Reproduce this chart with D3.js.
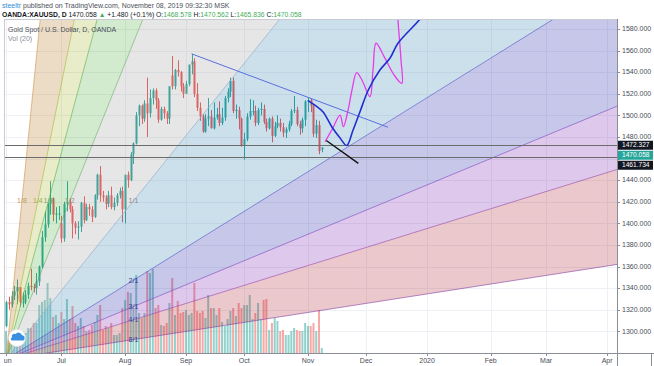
<!DOCTYPE html>
<html><head><meta charset="utf-8">
<script src="https://cdn.jsdelivr.net/npm/d3@7"></script>
<style>body{margin:0;background:#fff;overflow:hidden}svg{display:block;font-family:"Liberation Sans",Arial,sans-serif}</style>
</head><body><svg id="c" width="654" height="366"></svg>
<script>
// ---------- DATA ----------
const startDate = "2019-06-03";
const endDate = "2020-04-30";
const opens  = [1305,1327,1325,1333,1337,1341,1327,1327,1334,1342,1341,1340,1346,1360,1387,1399,1418,1423,1408,1409,
  1400,1386,1418,1419,1413,1400,1396,1397,1419,1403,1415,1413,1406,1426,1445,1426,1424,1418,1426,1415,1419,1426,1430,
  1413,1445,1440,1464,1474,1500,1509,1497,1511,1502,1516,1523,1514,1496,1506,1502,1497,1537,1527,1542,1540,1527,
  1520,1529,1547,1550,1520,1507,1499,1485,1497,1499,1488,1498,1501,1493,1498,1516,1522,1532,1504,1505,1497,
  1472,1478,1499,1504,1504,1493,1505,1506,1494,1488,1497,1481,1490,1493,1489,1484,1487,1492,1504,1505,1492,1488,1496,
  1513,1514,1509,1483,1491,1468.578];
const highs  = [1328,1332,1337,1342,1348,1341,1336,1338,1345,1358,1344,1354,1361,1393,1411,1419,1439,1424,1415,1416,
  1407,1420,1439,1423,1416,1402,1402,1420,1425,1418,1418,1416,1427,1446,1453,1430,1426,1430,1434,1424,1428,1433,1434,
  1445,1448,1466,1475,1503,1510,1510,1514,1535,1524,1525,1525,1516,1508,1508,1504,1527,1555,1543,1551,1541,1530,
  1532,1547,1557,1553,1530,1512,1501,1501,1516,1505,1512,1507,1513,1507,1518,1525,1535,1535,1510,1508,1498,
  1484,1502,1515,1514,1509,1507,1512,1510,1497,1498,1499,1494,1500,1497,1493,1489,1495,1506,1518,1508,1495,1498,1514,
  1516,1516,1510,1496,1495,1470.562];
const lows   = [1304,1320,1322,1329,1325,1323,1322,1325,1330,1338,1336,1334,1342,1358,1383,1396,1408,1402,1400,1403,
  1382,1383,1411,1410,1386,1390,1385,1392,1400,1402,1407,1401,1405,1422,1420,1420,1413,1415,1413,1412,1416,1423,1401,
  1400,1433,1439,1455,1473,1490,1492,1494,1480,1498,1510,1506,1493,1495,1497,1492,1492,1524,1524,1536,1522,1516,
  1520,1527,1538,1517,1504,1495,1484,1484,1490,1488,1487,1496,1490,1491,1495,1512,1517,1502,1497,1487,1471,
  1459,1476,1496,1500,1490,1491,1500,1492,1485,1487,1475,1480,1488,1485,1480,1479,1485,1490,1502,1490,1482,1484,1490,
  1503,1503,1480,1479,1464,1465.836];
const closes = [1327,1325,1333,1337,1341,1327,1327,1334,1342,1341,1340,1346,1360,1387,1399,1418,1423,1408,1409,1409,
  1386,1418,1419,1413,1400,1396,1397,1419,1403,1415,1413,1406,1426,1445,1426,1424,1418,1426,1415,1419,1426,1430,1413,
  1445,1440,1464,1474,1500,1509,1497,1511,1502,1516,1523,1514,1496,1506,1502,1497,1527,1527,1542,1540,1527,1520,
  1529,1547,1550,1520,1507,1499,1485,1497,1499,1488,1498,1501,1493,1498,1516,1522,1532,1504,1505,1497,1472,
  1478,1499,1504,1504,1493,1505,1506,1494,1488,1497,1481,1490,1493,1489,1484,1487,1492,1504,1505,1492,1488,1496,1513,
  1514,1509,1483,1491,1467,1470.058];
const volumes = [55000,45000,37500,42500,50000,45000,40000,50000,62500,62500,75000,75000,120000,127500,132500,175000,137500,90000,95000,75000,
  102500,85000,135000,85000,117500,75000,67500,87500,67500,55000,57500,70000,77500,95000,120000,57500,67500,62500,75000,45000,45000,50000,112500,
  132500,152500,150000,112500,195000,100000,87500,100000,205000,200000,210000,112500,120000,70000,67500,75000,125000,187500,95000,130000,100000,102500,
  107500,95000,100000,175000,105000,100000,105000,87500,145000,112500,112500,95000,112500,77500,67500,85000,105000,112500,92500,125000,112500,
  120000,120000,145000,85000,100000,125000,85000,132500,135000,57500,75000,87500,80000,55000,57500,45000,45000,55000,62500,57500,55000,55000,75000,
  67500,67500,75000,55000,107500,12500];
const priceTicks = [1300,1320,1340,1360,1380,1400,1420,1440,1460,1480,1500,1520,1540,1560,1580];
const monthLabels = ["Jun","Jul","Aug","Sep","Oct","Nov","Dec","2020","Feb","Mar","Apr"];
const monthStarts = ["2019-06-01","2019-07-01","2019-08-01","2019-09-01","2019-10-01","2019-11-01","2019-12-01","2020-01-01","2020-02-01","2020-03-01","2020-04-01"];
const hLevels = [1472.327, 1461.734];
const lastPrice = 1470.058;
// Gann fan anchors (bar index, price)
const gannOrigin = [0, 1274];
const gannEnd = [46, 1420.7];
const gannLabels = ["1/8","1/4","1/3","1/2","1/1","2/1","3/1","4/1","8/1"];
const gannTimeFrac  = [1/8,1/4,1/3,1/2,1,1,1,1,1];
const gannPriceFrac = [1,1,1,1,1,1/2,1/3,1/4,1/8];
// drawings (bar index, price)
const trendLine = [[67,1557],[137.9,1489]];
const blackLine = [[115.5,1477.0],[127.2,1455.6]];
const blueCurve = [[109,1513.6],[111.9,1508.7],[114.4,1503.4],[117.6,1489.5],[120.6,1479],[123,1472.1],[125.3,1486.4],
  [127.8,1503.4],[130.8,1523.5],[135,1542],[138.6,1552.9],[141.5,1566.8],[149.5,1589.3],[153,1602]];
const magentaCurve = [[115.2,1475.6],[118,1488.3],[120.6,1500.3],[121.8,1489.5],[123.5,1505],[124.9,1523.5],[126.6,1539.5],
  [128.5,1532.8],[131.4,1517.3],[132.5,1542],[133.6,1566.8],[136.8,1553],[140.1,1537.4],[142.9,1529.7],[142.6,1551.3],[141.5,1588.3],[141.2,1602]];

// ---------- CALENDAR (weekday bars) ----------
const parse = d3.utcParse("%Y-%m-%d");
const days = d3.utcDays(parse(startDate), d3.utcDay.offset(parse(endDate),1)).filter(d => d.getUTCDay()!==0 && d.getUTCDay()!==6);
function idxOf(dateStr){ const t=parse(dateStr); return days.findIndex(d => d >= t); }

// ---------- LAYOUT ----------
const L=4, R=617, T=19, B=353;
const x = d3.scaleLinear().domain([-0.722, 220.58]).range([L, R]);
const y = d3.scaleLinear().domain([1300,1580]).range([331.3, 29]);
const yv = d3.scaleLinear().domain([0,210000]).range([B, B-84]);

const svg = d3.select("#c");
svg.append("rect").attr("width",654).attr("height",366).attr("fill","#fff");
const defs = svg.append("defs");
defs.append("clipPath").attr("id","pane").append("rect").attr("x",L).attr("y",T).attr("width",R-L).attr("height",B-T);
defs.append("clipPath").attr("id","taxis").append("rect").attr("x",L).attr("y",B).attr("width",R-L+40).attr("height",20);

const pane = svg.append("g").attr("clip-path","url(#pane)");
// grid
const mIdx = monthStarts.map(idxOf);
pane.selectAll("line.vg").data(mIdx).join("line").attr("x1",d=>Math.round(x(d))+0.5).attr("x2",d=>Math.round(x(d))+0.5)
  .attr("y1",T).attr("y2",B).attr("stroke","#eef0f5").attr("stroke-width",1);
pane.selectAll("line.hg").data(priceTicks).join("line").attr("y1",d=>Math.round(y(d))+0.5).attr("y2",d=>Math.round(y(d))+0.5)
  .attr("x1",L).attr("x2",R).attr("stroke","#eef0f5").attr("stroke-width",1);

const up = i => closes[i] >= opens[i];
// volume
pane.selectAll("rect.vol").data(volumes).join("rect")
  .attr("x",(d,i)=>x(i)-1).attr("width",2).attr("y",d=>yv(d)).attr("height",d=>B-yv(d))
  .attr("fill",(d,i)=>up(i)?"rgba(38,166,154,0.5)":"rgba(239,83,80,0.5)");
// candles
const cg = pane.append("g");
closes.forEach((c,i)=>{
  const col = up(i)?"#26a69a":"#ef5350";
  const xc = Math.round(x(i))+0.5;
  cg.append("line").attr("x1",xc).attr("x2",xc).attr("y1",y(highs[i])).attr("y2",y(lows[i])).attr("stroke",col).attr("stroke-width",1);
  const top = y(Math.max(opens[i],c)), bot = y(Math.min(opens[i],c));
  cg.append("rect").attr("x",xc-1).attr("width",2).attr("y",top).attr("height",Math.max(1,bot-top)).attr("fill",col);
});

// gann fan
const fanFill = ["rgba(179,115,27,0.25)","rgba(163,179,35,0.25)","rgba(75,171,55,0.25)","rgba(155,155,155,0.25)",
  "rgba(51,131,179,0.25)","rgba(40,40,170,0.26)","rgba(123,35,175,0.25)","rgba(171,35,51,0.25)"];
const fanLine = ["rgba(200,140,60,0.55)","rgba(160,180,40,0.55)","rgba(80,170,60,0.55)","rgba(90,160,90,0.5)","rgba(150,175,200,0.7)",
  "rgba(80,80,200,0.6)","rgba(120,70,190,0.6)","rgba(150,70,170,0.6)","rgba(130,60,160,0.6)"];
const fanText = ["#c39a66","#9fb04a","#7aa870","#8a9a8a","#888","#2d3f86","#2d3f86","#3a4f9a","#3d3f8a"];
const [i0,p0]=gannOrigin, [i1,p1]=gannEnd;
const farI = 400;
const fanPts = gannTimeFrac.map((tf,k)=>{
  const pi = i0+tf*(i1-i0), pp = p0+gannPriceFrac[k]*(p1-p0);
  const slope = (pp-p0)/(pi-i0);
  return {pi,pp,end:[farI, p0+slope*(farI-i0)]};
});
const fg = pane.append("g");
for(let k=0;k<fanPts.length-1;k++){
  const a=fanPts[k].end, b=fanPts[k+1].end;
  fg.append("path").attr("d",`M${x(i0)},${y(p0)}L${x(a[0])},${y(a[1])}L${x(b[0])},${y(b[1])}Z`).attr("fill",fanFill[k]);
}
fanPts.forEach((f,k)=>{
  fg.append("line").attr("x1",x(i0)).attr("y1",y(p0)).attr("x2",x(f.end[0])).attr("y2",y(f.end[1]))
    .attr("stroke",fanLine[k]).attr("stroke-width",1);
});
fanPts.forEach((f,k)=>{
  fg.append("text").attr("x",x(f.pi)).attr("y",y(f.pp)+2.5).attr("text-anchor","middle").attr("font-size",7)
    .attr("fill",fanText[k]).text(gannLabels[k]);
});

// horizontal lines
pane.selectAll("line.hl").data(hLevels).join("line").attr("x1",L).attr("x2",R)
  .attr("y1",d=>Math.round(y(d))+0.5).attr("y2",d=>Math.round(y(d))+0.5).attr("stroke","#6b6b6b").attr("stroke-width",1);
// trend line
const ln = d3.line().x(d=>x(d[0])).y(d=>y(d[1]));
pane.append("path").attr("d",ln(trendLine)).attr("stroke","#5a6fe0").attr("stroke-width",1).attr("fill","none");
pane.append("path").attr("d",ln(blackLine)).attr("stroke","#111").attr("stroke-width",1.4).attr("fill","none");
const cl = d3.line().x(d=>x(d[0])).y(d=>y(d[1])).curve(d3.curveCatmullRom.alpha(0.5));
pane.append("path").attr("d",cl(magentaCurve)).attr("stroke","#e63ce8").attr("stroke-width",1.3).attr("fill","none");
pane.append("path").attr("d",cl(blueCurve)).attr("stroke","#1f2fd0").attr("stroke-width",1.6).attr("fill","none");

// logo
const lg = svg.append("g").attr("transform","translate(17,338)");
lg.append("circle").attr("r",8.5).attr("fill","#fff").attr("stroke","#e3e6ec").attr("stroke-width",0.6);
lg.append("path").attr("d","M-5,2.5 h10 a2.6,2.6 0 0 0 0,-5.2 a3.6,3.6 0 0 0 -6.4,-1.2 a2.6,2.6 0 0 0 -3.6,3.3 a1.6,1.6 0 0 0 0,3.1z").attr("fill","#3a8fe0");

// pane border
svg.append("line").attr("x1",L+0.5).attr("x2",L+0.5).attr("y1",T).attr("y2",B).attr("stroke","#c8cbd2");
svg.append("line").attr("x1",L).attr("x2",R).attr("y1",T+0.5).attr("y2",T+0.5).attr("stroke","#c8cbd2");

// price axis
svg.append("line").attr("x1",R+0.5).attr("x2",R+0.5).attr("y1",T).attr("y2",366).attr("stroke","#8a8e99");
const pa = svg.append("g");
const boxes = [{v:hLevels[0], c:"#131722"},{v:lastPrice, c:"#26a69a"},{v:hLevels[1], c:"#131722"}];
let prevBottom = -1;
boxes.forEach(b=>{ let top = y(b.v)-4.5; if(top<prevBottom) top=prevBottom; b.top=top; prevBottom = top+10; });
const boxTop = boxes[0].top, boxBot = boxes[boxes.length-1].top+9;
priceTicks.forEach(p=>{
  pa.append("line").attr("x1",R).attr("x2",R+3).attr("y1",Math.round(y(p))+0.5).attr("y2",Math.round(y(p))+0.5).attr("stroke","#8a8e99");
  if (y(p) > boxTop - 1 && y(p) < boxBot + 1) return; // hidden behind price labels
  pa.append("text").attr("x",R+5).attr("y",y(p)+2.2).attr("font-size",7).attr("fill","#4a4e59").text(d3.format(".3f")(p));
});
boxes.forEach(b=>{
  pa.append("rect").attr("x",R+1).attr("y",b.top).attr("width",35).attr("height",9).attr("fill",b.c);
  pa.append("text").attr("x",R+5).attr("y",b.top+6.6).attr("font-size",6.6).attr("fill","#fff").text(d3.format(".3f")(b.v));
});

// time axis
svg.append("line").attr("x1",0).attr("x2",654).attr("y1",B+0.5).attr("y2",B+0.5).attr("stroke","#8a8e99");
svg.append("line").attr("x1",651.5).attr("x2",651.5).attr("y1",B).attr("y2",366).attr("stroke","#8a8e99");
const ta = svg.append("g").attr("clip-path","url(#taxis)");
mIdx.forEach((mi,k)=>{
  ta.append("line").attr("x1",Math.round(x(mi))+0.5).attr("x2",Math.round(x(mi))+0.5).attr("y1",B).attr("y2",B+3).attr("stroke","#8a8e99");
  ta.append("text").attr("x",x(mi)).attr("y",363).attr("text-anchor","middle").attr("font-size",7).attr("fill","#4a4e59").text(monthLabels[k]);
});

// header
const h1 = svg.append("text").attr("x",2).attr("y",7.5).attr("font-size",7).attr("fill","#4a4e59");
h1.append("tspan").attr("fill","#2f8fd8").text("steeltr");
h1.append("tspan").text(" published on TradingView.com, November 08, 2019 09:32:30 MSK");
const h2 = svg.append("text").attr("x",2).attr("y",16.5).attr("font-size",6.8).attr("fill","#131722");
const g = "#3fae5a";
[["OANDA:XAUUSD, D","#131722","bold"],[" 1470.058 ","#131722","normal"],["▲",g,"normal"],[" +1.480 (+0.1%) O:","#131722","normal"],["1468.578",g,"normal"],
 [" H:","#131722","normal"],["1470.562",g,"normal"],[" L:","#131722","normal"],["1465.836",g,"normal"],[" C:","#131722","normal"],["1470.058",g,"normal"]]
 .forEach(s=>h2.append("tspan").attr("fill",s[1]).attr("font-weight",s[2]).text(s[0]));
svg.append("text").attr("x",8).attr("y",31.5).attr("font-size",7).attr("fill","#4a4e59").text("Gold Spot / U.S. Dollar, D, OANDA");
svg.append("text").attr("x",8).attr("y",40.5).attr("font-size",7).attr("fill","#8a8e99").text("Vol (20)");
</script></body></html>
